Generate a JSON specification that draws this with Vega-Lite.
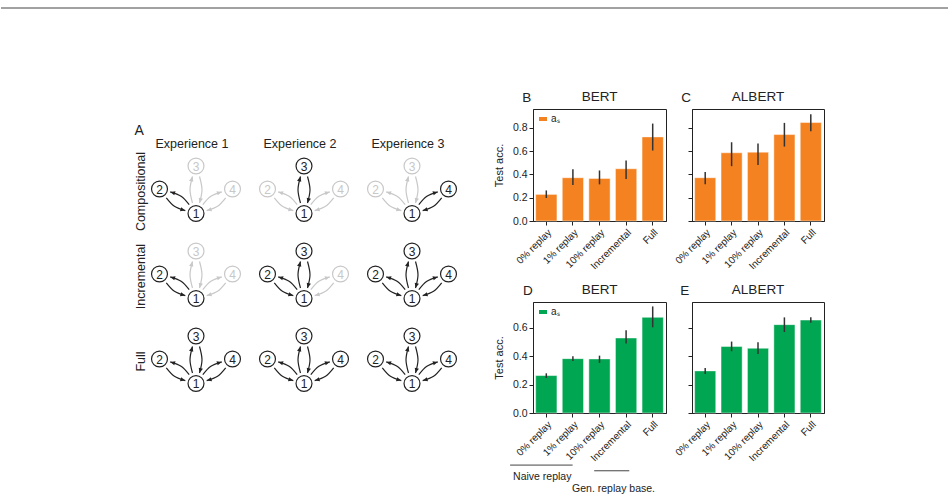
{
  "$schema": "https://vega.github.io/schema/vega-lite/v6.json",
  "padding": {"left": 0, "top": 7, "right": 0, "bottom": 0},
  "background": "white",
  "config": {
    "font": "Liberation Sans",
    "view": {"stroke": null},
    "axis": {"labelColor": "#222", "titleColor": "#222", "domainColor": "#222", "tickColor": "#222", "grid": false, "labelFontSize": 10.5, "titleFontSize": 11, "titleFontWeight": "normal", "tickSize": 4, "labelPadding": 2},
    "axisX": {"labelAngle": -45, "labelFontSize": 10},
    "title": {"fontSize": 13.5, "fontWeight": "normal", "color": "#222", "offset": 5},
    "header": {"labelFontSize": 12.5, "labelColor": "#222"},
    "legend": {"labelFontSize": 10, "labelColor": "#222"},
    "text": {"color": "#222"}
  },
  "datasets": {
    "adata": [
      {"r":"C","e":1,"g":"n","k":1,"x":0,"y":0,"on":1},
      {"r":"C","e":1,"g":"n","k":2,"x":-36.5,"y":24.5,"on":1},
      {"r":"C","e":1,"g":"n","k":3,"x":0,"y":47.5,"on":0},
      {"r":"C","e":1,"g":"n","k":4,"x":36.5,"y":24.5,"on":0},
      {"r":"C","e":1,"g":"a","k":2,"a":"o","o":0,"x":-6.8,"y":8.8,"on":1},
      {"r":"C","e":1,"g":"a","k":2,"a":"o","o":1,"x":-14.9,"y":17.2,"on":1},
      {"r":"C","e":1,"g":"a","k":2,"a":"o","o":2,"x":-25.8,"y":21.6,"on":1},
      {"r":"C","e":1,"g":"a","k":2,"a":"i","o":0,"x":-29.7,"y":15.7,"on":1},
      {"r":"C","e":1,"g":"a","k":2,"a":"i","o":1,"x":-21.6,"y":7.3,"on":1},
      {"r":"C","e":1,"g":"a","k":2,"a":"i","o":2,"x":-10.7,"y":2.9,"on":1},
      {"r":"C","e":1,"g":"a","k":3,"a":"o","o":0,"x":-3.5,"y":10.5,"on":0},
      {"r":"C","e":1,"g":"a","k":3,"a":"o","o":1,"x":-6,"y":23.8,"on":0},
      {"r":"C","e":1,"g":"a","k":3,"a":"o","o":2,"x":-3.5,"y":37,"on":0},
      {"r":"C","e":1,"g":"a","k":3,"a":"i","o":0,"x":3.5,"y":37,"on":0},
      {"r":"C","e":1,"g":"a","k":3,"a":"i","o":1,"x":6,"y":23.8,"on":0},
      {"r":"C","e":1,"g":"a","k":3,"a":"i","o":2,"x":3.5,"y":10.5,"on":0},
      {"r":"C","e":1,"g":"a","k":4,"a":"o","o":0,"x":6.8,"y":8.8,"on":0},
      {"r":"C","e":1,"g":"a","k":4,"a":"o","o":1,"x":14.9,"y":17.2,"on":0},
      {"r":"C","e":1,"g":"a","k":4,"a":"o","o":2,"x":25.8,"y":21.6,"on":0},
      {"r":"C","e":1,"g":"a","k":4,"a":"i","o":0,"x":29.7,"y":15.7,"on":0},
      {"r":"C","e":1,"g":"a","k":4,"a":"i","o":1,"x":21.6,"y":7.3,"on":0},
      {"r":"C","e":1,"g":"a","k":4,"a":"i","o":2,"x":10.7,"y":2.9,"on":0},
      {"r":"C","e":1,"g":"h","k":2,"x":-25.8,"y":21.6,"h":286,"on":1},
      {"r":"C","e":1,"g":"h","k":2,"x":-10.7,"y":2.9,"h":106,"on":1},
      {"r":"C","e":1,"g":"h","k":3,"x":-3.5,"y":37,"h":16,"on":0},
      {"r":"C","e":1,"g":"h","k":3,"x":3.5,"y":10.5,"h":196,"on":0},
      {"r":"C","e":1,"g":"h","k":4,"x":25.8,"y":21.6,"h":74,"on":0},
      {"r":"C","e":1,"g":"h","k":4,"x":10.7,"y":2.9,"h":254,"on":0},

      {"r":"C","e":2,"g":"n","k":1,"x":0,"y":0,"on":1},
      {"r":"C","e":2,"g":"n","k":2,"x":-36.5,"y":24.5,"on":0},
      {"r":"C","e":2,"g":"n","k":3,"x":0,"y":47.5,"on":1},
      {"r":"C","e":2,"g":"n","k":4,"x":36.5,"y":24.5,"on":0},
      {"r":"C","e":2,"g":"a","k":2,"a":"o","o":0,"x":-6.8,"y":8.8,"on":0},
      {"r":"C","e":2,"g":"a","k":2,"a":"o","o":1,"x":-14.9,"y":17.2,"on":0},
      {"r":"C","e":2,"g":"a","k":2,"a":"o","o":2,"x":-25.8,"y":21.6,"on":0},
      {"r":"C","e":2,"g":"a","k":2,"a":"i","o":0,"x":-29.7,"y":15.7,"on":0},
      {"r":"C","e":2,"g":"a","k":2,"a":"i","o":1,"x":-21.6,"y":7.3,"on":0},
      {"r":"C","e":2,"g":"a","k":2,"a":"i","o":2,"x":-10.7,"y":2.9,"on":0},
      {"r":"C","e":2,"g":"a","k":3,"a":"o","o":0,"x":-3.5,"y":10.5,"on":1},
      {"r":"C","e":2,"g":"a","k":3,"a":"o","o":1,"x":-6,"y":23.8,"on":1},
      {"r":"C","e":2,"g":"a","k":3,"a":"o","o":2,"x":-3.5,"y":37,"on":1},
      {"r":"C","e":2,"g":"a","k":3,"a":"i","o":0,"x":3.5,"y":37,"on":1},
      {"r":"C","e":2,"g":"a","k":3,"a":"i","o":1,"x":6,"y":23.8,"on":1},
      {"r":"C","e":2,"g":"a","k":3,"a":"i","o":2,"x":3.5,"y":10.5,"on":1},
      {"r":"C","e":2,"g":"a","k":4,"a":"o","o":0,"x":6.8,"y":8.8,"on":0},
      {"r":"C","e":2,"g":"a","k":4,"a":"o","o":1,"x":14.9,"y":17.2,"on":0},
      {"r":"C","e":2,"g":"a","k":4,"a":"o","o":2,"x":25.8,"y":21.6,"on":0},
      {"r":"C","e":2,"g":"a","k":4,"a":"i","o":0,"x":29.7,"y":15.7,"on":0},
      {"r":"C","e":2,"g":"a","k":4,"a":"i","o":1,"x":21.6,"y":7.3,"on":0},
      {"r":"C","e":2,"g":"a","k":4,"a":"i","o":2,"x":10.7,"y":2.9,"on":0},
      {"r":"C","e":2,"g":"h","k":2,"x":-25.8,"y":21.6,"h":286,"on":0},
      {"r":"C","e":2,"g":"h","k":2,"x":-10.7,"y":2.9,"h":106,"on":0},
      {"r":"C","e":2,"g":"h","k":3,"x":-3.5,"y":37,"h":16,"on":1},
      {"r":"C","e":2,"g":"h","k":3,"x":3.5,"y":10.5,"h":196,"on":1},
      {"r":"C","e":2,"g":"h","k":4,"x":25.8,"y":21.6,"h":74,"on":0},
      {"r":"C","e":2,"g":"h","k":4,"x":10.7,"y":2.9,"h":254,"on":0},

      {"r":"C","e":3,"g":"n","k":1,"x":0,"y":0,"on":1},
      {"r":"C","e":3,"g":"n","k":2,"x":-36.5,"y":24.5,"on":0},
      {"r":"C","e":3,"g":"n","k":3,"x":0,"y":47.5,"on":0},
      {"r":"C","e":3,"g":"n","k":4,"x":36.5,"y":24.5,"on":1},
      {"r":"C","e":3,"g":"a","k":2,"a":"o","o":0,"x":-6.8,"y":8.8,"on":0},
      {"r":"C","e":3,"g":"a","k":2,"a":"o","o":1,"x":-14.9,"y":17.2,"on":0},
      {"r":"C","e":3,"g":"a","k":2,"a":"o","o":2,"x":-25.8,"y":21.6,"on":0},
      {"r":"C","e":3,"g":"a","k":2,"a":"i","o":0,"x":-29.7,"y":15.7,"on":0},
      {"r":"C","e":3,"g":"a","k":2,"a":"i","o":1,"x":-21.6,"y":7.3,"on":0},
      {"r":"C","e":3,"g":"a","k":2,"a":"i","o":2,"x":-10.7,"y":2.9,"on":0},
      {"r":"C","e":3,"g":"a","k":3,"a":"o","o":0,"x":-3.5,"y":10.5,"on":0},
      {"r":"C","e":3,"g":"a","k":3,"a":"o","o":1,"x":-6,"y":23.8,"on":0},
      {"r":"C","e":3,"g":"a","k":3,"a":"o","o":2,"x":-3.5,"y":37,"on":0},
      {"r":"C","e":3,"g":"a","k":3,"a":"i","o":0,"x":3.5,"y":37,"on":0},
      {"r":"C","e":3,"g":"a","k":3,"a":"i","o":1,"x":6,"y":23.8,"on":0},
      {"r":"C","e":3,"g":"a","k":3,"a":"i","o":2,"x":3.5,"y":10.5,"on":0},
      {"r":"C","e":3,"g":"a","k":4,"a":"o","o":0,"x":6.8,"y":8.8,"on":1},
      {"r":"C","e":3,"g":"a","k":4,"a":"o","o":1,"x":14.9,"y":17.2,"on":1},
      {"r":"C","e":3,"g":"a","k":4,"a":"o","o":2,"x":25.8,"y":21.6,"on":1},
      {"r":"C","e":3,"g":"a","k":4,"a":"i","o":0,"x":29.7,"y":15.7,"on":1},
      {"r":"C","e":3,"g":"a","k":4,"a":"i","o":1,"x":21.6,"y":7.3,"on":1},
      {"r":"C","e":3,"g":"a","k":4,"a":"i","o":2,"x":10.7,"y":2.9,"on":1},
      {"r":"C","e":3,"g":"h","k":2,"x":-25.8,"y":21.6,"h":286,"on":0},
      {"r":"C","e":3,"g":"h","k":2,"x":-10.7,"y":2.9,"h":106,"on":0},
      {"r":"C","e":3,"g":"h","k":3,"x":-3.5,"y":37,"h":16,"on":0},
      {"r":"C","e":3,"g":"h","k":3,"x":3.5,"y":10.5,"h":196,"on":0},
      {"r":"C","e":3,"g":"h","k":4,"x":25.8,"y":21.6,"h":74,"on":1},
      {"r":"C","e":3,"g":"h","k":4,"x":10.7,"y":2.9,"h":254,"on":1},

      {"r":"I","e":1,"g":"n","k":1,"x":0,"y":0,"on":1},
      {"r":"I","e":1,"g":"n","k":2,"x":-36.5,"y":24.5,"on":1},
      {"r":"I","e":1,"g":"n","k":3,"x":0,"y":47.5,"on":0},
      {"r":"I","e":1,"g":"n","k":4,"x":36.5,"y":24.5,"on":0},
      {"r":"I","e":1,"g":"a","k":2,"a":"o","o":0,"x":-6.8,"y":8.8,"on":1},
      {"r":"I","e":1,"g":"a","k":2,"a":"o","o":1,"x":-14.9,"y":17.2,"on":1},
      {"r":"I","e":1,"g":"a","k":2,"a":"o","o":2,"x":-25.8,"y":21.6,"on":1},
      {"r":"I","e":1,"g":"a","k":2,"a":"i","o":0,"x":-29.7,"y":15.7,"on":1},
      {"r":"I","e":1,"g":"a","k":2,"a":"i","o":1,"x":-21.6,"y":7.3,"on":1},
      {"r":"I","e":1,"g":"a","k":2,"a":"i","o":2,"x":-10.7,"y":2.9,"on":1},
      {"r":"I","e":1,"g":"a","k":3,"a":"o","o":0,"x":-3.5,"y":10.5,"on":0},
      {"r":"I","e":1,"g":"a","k":3,"a":"o","o":1,"x":-6,"y":23.8,"on":0},
      {"r":"I","e":1,"g":"a","k":3,"a":"o","o":2,"x":-3.5,"y":37,"on":0},
      {"r":"I","e":1,"g":"a","k":3,"a":"i","o":0,"x":3.5,"y":37,"on":0},
      {"r":"I","e":1,"g":"a","k":3,"a":"i","o":1,"x":6,"y":23.8,"on":0},
      {"r":"I","e":1,"g":"a","k":3,"a":"i","o":2,"x":3.5,"y":10.5,"on":0},
      {"r":"I","e":1,"g":"a","k":4,"a":"o","o":0,"x":6.8,"y":8.8,"on":0},
      {"r":"I","e":1,"g":"a","k":4,"a":"o","o":1,"x":14.9,"y":17.2,"on":0},
      {"r":"I","e":1,"g":"a","k":4,"a":"o","o":2,"x":25.8,"y":21.6,"on":0},
      {"r":"I","e":1,"g":"a","k":4,"a":"i","o":0,"x":29.7,"y":15.7,"on":0},
      {"r":"I","e":1,"g":"a","k":4,"a":"i","o":1,"x":21.6,"y":7.3,"on":0},
      {"r":"I","e":1,"g":"a","k":4,"a":"i","o":2,"x":10.7,"y":2.9,"on":0},
      {"r":"I","e":1,"g":"h","k":2,"x":-25.8,"y":21.6,"h":286,"on":1},
      {"r":"I","e":1,"g":"h","k":2,"x":-10.7,"y":2.9,"h":106,"on":1},
      {"r":"I","e":1,"g":"h","k":3,"x":-3.5,"y":37,"h":16,"on":0},
      {"r":"I","e":1,"g":"h","k":3,"x":3.5,"y":10.5,"h":196,"on":0},
      {"r":"I","e":1,"g":"h","k":4,"x":25.8,"y":21.6,"h":74,"on":0},
      {"r":"I","e":1,"g":"h","k":4,"x":10.7,"y":2.9,"h":254,"on":0},

      {"r":"I","e":2,"g":"n","k":1,"x":0,"y":0,"on":1},
      {"r":"I","e":2,"g":"n","k":2,"x":-36.5,"y":24.5,"on":1},
      {"r":"I","e":2,"g":"n","k":3,"x":0,"y":47.5,"on":1},
      {"r":"I","e":2,"g":"n","k":4,"x":36.5,"y":24.5,"on":0},
      {"r":"I","e":2,"g":"a","k":2,"a":"o","o":0,"x":-6.8,"y":8.8,"on":1},
      {"r":"I","e":2,"g":"a","k":2,"a":"o","o":1,"x":-14.9,"y":17.2,"on":1},
      {"r":"I","e":2,"g":"a","k":2,"a":"o","o":2,"x":-25.8,"y":21.6,"on":1},
      {"r":"I","e":2,"g":"a","k":2,"a":"i","o":0,"x":-29.7,"y":15.7,"on":1},
      {"r":"I","e":2,"g":"a","k":2,"a":"i","o":1,"x":-21.6,"y":7.3,"on":1},
      {"r":"I","e":2,"g":"a","k":2,"a":"i","o":2,"x":-10.7,"y":2.9,"on":1},
      {"r":"I","e":2,"g":"a","k":3,"a":"o","o":0,"x":-3.5,"y":10.5,"on":1},
      {"r":"I","e":2,"g":"a","k":3,"a":"o","o":1,"x":-6,"y":23.8,"on":1},
      {"r":"I","e":2,"g":"a","k":3,"a":"o","o":2,"x":-3.5,"y":37,"on":1},
      {"r":"I","e":2,"g":"a","k":3,"a":"i","o":0,"x":3.5,"y":37,"on":1},
      {"r":"I","e":2,"g":"a","k":3,"a":"i","o":1,"x":6,"y":23.8,"on":1},
      {"r":"I","e":2,"g":"a","k":3,"a":"i","o":2,"x":3.5,"y":10.5,"on":1},
      {"r":"I","e":2,"g":"a","k":4,"a":"o","o":0,"x":6.8,"y":8.8,"on":0},
      {"r":"I","e":2,"g":"a","k":4,"a":"o","o":1,"x":14.9,"y":17.2,"on":0},
      {"r":"I","e":2,"g":"a","k":4,"a":"o","o":2,"x":25.8,"y":21.6,"on":0},
      {"r":"I","e":2,"g":"a","k":4,"a":"i","o":0,"x":29.7,"y":15.7,"on":0},
      {"r":"I","e":2,"g":"a","k":4,"a":"i","o":1,"x":21.6,"y":7.3,"on":0},
      {"r":"I","e":2,"g":"a","k":4,"a":"i","o":2,"x":10.7,"y":2.9,"on":0},
      {"r":"I","e":2,"g":"h","k":2,"x":-25.8,"y":21.6,"h":286,"on":1},
      {"r":"I","e":2,"g":"h","k":2,"x":-10.7,"y":2.9,"h":106,"on":1},
      {"r":"I","e":2,"g":"h","k":3,"x":-3.5,"y":37,"h":16,"on":1},
      {"r":"I","e":2,"g":"h","k":3,"x":3.5,"y":10.5,"h":196,"on":1},
      {"r":"I","e":2,"g":"h","k":4,"x":25.8,"y":21.6,"h":74,"on":0},
      {"r":"I","e":2,"g":"h","k":4,"x":10.7,"y":2.9,"h":254,"on":0},

      {"r":"I","e":3,"g":"n","k":1,"x":0,"y":0,"on":1},
      {"r":"I","e":3,"g":"n","k":2,"x":-36.5,"y":24.5,"on":1},
      {"r":"I","e":3,"g":"n","k":3,"x":0,"y":47.5,"on":1},
      {"r":"I","e":3,"g":"n","k":4,"x":36.5,"y":24.5,"on":1},
      {"r":"I","e":3,"g":"a","k":2,"a":"o","o":0,"x":-6.8,"y":8.8,"on":1},
      {"r":"I","e":3,"g":"a","k":2,"a":"o","o":1,"x":-14.9,"y":17.2,"on":1},
      {"r":"I","e":3,"g":"a","k":2,"a":"o","o":2,"x":-25.8,"y":21.6,"on":1},
      {"r":"I","e":3,"g":"a","k":2,"a":"i","o":0,"x":-29.7,"y":15.7,"on":1},
      {"r":"I","e":3,"g":"a","k":2,"a":"i","o":1,"x":-21.6,"y":7.3,"on":1},
      {"r":"I","e":3,"g":"a","k":2,"a":"i","o":2,"x":-10.7,"y":2.9,"on":1},
      {"r":"I","e":3,"g":"a","k":3,"a":"o","o":0,"x":-3.5,"y":10.5,"on":1},
      {"r":"I","e":3,"g":"a","k":3,"a":"o","o":1,"x":-6,"y":23.8,"on":1},
      {"r":"I","e":3,"g":"a","k":3,"a":"o","o":2,"x":-3.5,"y":37,"on":1},
      {"r":"I","e":3,"g":"a","k":3,"a":"i","o":0,"x":3.5,"y":37,"on":1},
      {"r":"I","e":3,"g":"a","k":3,"a":"i","o":1,"x":6,"y":23.8,"on":1},
      {"r":"I","e":3,"g":"a","k":3,"a":"i","o":2,"x":3.5,"y":10.5,"on":1},
      {"r":"I","e":3,"g":"a","k":4,"a":"o","o":0,"x":6.8,"y":8.8,"on":1},
      {"r":"I","e":3,"g":"a","k":4,"a":"o","o":1,"x":14.9,"y":17.2,"on":1},
      {"r":"I","e":3,"g":"a","k":4,"a":"o","o":2,"x":25.8,"y":21.6,"on":1},
      {"r":"I","e":3,"g":"a","k":4,"a":"i","o":0,"x":29.7,"y":15.7,"on":1},
      {"r":"I","e":3,"g":"a","k":4,"a":"i","o":1,"x":21.6,"y":7.3,"on":1},
      {"r":"I","e":3,"g":"a","k":4,"a":"i","o":2,"x":10.7,"y":2.9,"on":1},
      {"r":"I","e":3,"g":"h","k":2,"x":-25.8,"y":21.6,"h":286,"on":1},
      {"r":"I","e":3,"g":"h","k":2,"x":-10.7,"y":2.9,"h":106,"on":1},
      {"r":"I","e":3,"g":"h","k":3,"x":-3.5,"y":37,"h":16,"on":1},
      {"r":"I","e":3,"g":"h","k":3,"x":3.5,"y":10.5,"h":196,"on":1},
      {"r":"I","e":3,"g":"h","k":4,"x":25.8,"y":21.6,"h":74,"on":1},
      {"r":"I","e":3,"g":"h","k":4,"x":10.7,"y":2.9,"h":254,"on":1},

      {"r":"F","e":1,"g":"n","k":1,"x":0,"y":0,"on":1},
      {"r":"F","e":1,"g":"n","k":2,"x":-36.5,"y":24.5,"on":1},
      {"r":"F","e":1,"g":"n","k":3,"x":0,"y":47.5,"on":1},
      {"r":"F","e":1,"g":"n","k":4,"x":36.5,"y":24.5,"on":1},
      {"r":"F","e":1,"g":"a","k":2,"a":"o","o":0,"x":-6.8,"y":8.8,"on":1},
      {"r":"F","e":1,"g":"a","k":2,"a":"o","o":1,"x":-14.9,"y":17.2,"on":1},
      {"r":"F","e":1,"g":"a","k":2,"a":"o","o":2,"x":-25.8,"y":21.6,"on":1},
      {"r":"F","e":1,"g":"a","k":2,"a":"i","o":0,"x":-29.7,"y":15.7,"on":1},
      {"r":"F","e":1,"g":"a","k":2,"a":"i","o":1,"x":-21.6,"y":7.3,"on":1},
      {"r":"F","e":1,"g":"a","k":2,"a":"i","o":2,"x":-10.7,"y":2.9,"on":1},
      {"r":"F","e":1,"g":"a","k":3,"a":"o","o":0,"x":-3.5,"y":10.5,"on":1},
      {"r":"F","e":1,"g":"a","k":3,"a":"o","o":1,"x":-6,"y":23.8,"on":1},
      {"r":"F","e":1,"g":"a","k":3,"a":"o","o":2,"x":-3.5,"y":37,"on":1},
      {"r":"F","e":1,"g":"a","k":3,"a":"i","o":0,"x":3.5,"y":37,"on":1},
      {"r":"F","e":1,"g":"a","k":3,"a":"i","o":1,"x":6,"y":23.8,"on":1},
      {"r":"F","e":1,"g":"a","k":3,"a":"i","o":2,"x":3.5,"y":10.5,"on":1},
      {"r":"F","e":1,"g":"a","k":4,"a":"o","o":0,"x":6.8,"y":8.8,"on":1},
      {"r":"F","e":1,"g":"a","k":4,"a":"o","o":1,"x":14.9,"y":17.2,"on":1},
      {"r":"F","e":1,"g":"a","k":4,"a":"o","o":2,"x":25.8,"y":21.6,"on":1},
      {"r":"F","e":1,"g":"a","k":4,"a":"i","o":0,"x":29.7,"y":15.7,"on":1},
      {"r":"F","e":1,"g":"a","k":4,"a":"i","o":1,"x":21.6,"y":7.3,"on":1},
      {"r":"F","e":1,"g":"a","k":4,"a":"i","o":2,"x":10.7,"y":2.9,"on":1},
      {"r":"F","e":1,"g":"h","k":2,"x":-25.8,"y":21.6,"h":286,"on":1},
      {"r":"F","e":1,"g":"h","k":2,"x":-10.7,"y":2.9,"h":106,"on":1},
      {"r":"F","e":1,"g":"h","k":3,"x":-3.5,"y":37,"h":16,"on":1},
      {"r":"F","e":1,"g":"h","k":3,"x":3.5,"y":10.5,"h":196,"on":1},
      {"r":"F","e":1,"g":"h","k":4,"x":25.8,"y":21.6,"h":74,"on":1},
      {"r":"F","e":1,"g":"h","k":4,"x":10.7,"y":2.9,"h":254,"on":1},

      {"r":"F","e":2,"g":"n","k":1,"x":0,"y":0,"on":1},
      {"r":"F","e":2,"g":"n","k":2,"x":-36.5,"y":24.5,"on":1},
      {"r":"F","e":2,"g":"n","k":3,"x":0,"y":47.5,"on":1},
      {"r":"F","e":2,"g":"n","k":4,"x":36.5,"y":24.5,"on":1},
      {"r":"F","e":2,"g":"a","k":2,"a":"o","o":0,"x":-6.8,"y":8.8,"on":1},
      {"r":"F","e":2,"g":"a","k":2,"a":"o","o":1,"x":-14.9,"y":17.2,"on":1},
      {"r":"F","e":2,"g":"a","k":2,"a":"o","o":2,"x":-25.8,"y":21.6,"on":1},
      {"r":"F","e":2,"g":"a","k":2,"a":"i","o":0,"x":-29.7,"y":15.7,"on":1},
      {"r":"F","e":2,"g":"a","k":2,"a":"i","o":1,"x":-21.6,"y":7.3,"on":1},
      {"r":"F","e":2,"g":"a","k":2,"a":"i","o":2,"x":-10.7,"y":2.9,"on":1},
      {"r":"F","e":2,"g":"a","k":3,"a":"o","o":0,"x":-3.5,"y":10.5,"on":1},
      {"r":"F","e":2,"g":"a","k":3,"a":"o","o":1,"x":-6,"y":23.8,"on":1},
      {"r":"F","e":2,"g":"a","k":3,"a":"o","o":2,"x":-3.5,"y":37,"on":1},
      {"r":"F","e":2,"g":"a","k":3,"a":"i","o":0,"x":3.5,"y":37,"on":1},
      {"r":"F","e":2,"g":"a","k":3,"a":"i","o":1,"x":6,"y":23.8,"on":1},
      {"r":"F","e":2,"g":"a","k":3,"a":"i","o":2,"x":3.5,"y":10.5,"on":1},
      {"r":"F","e":2,"g":"a","k":4,"a":"o","o":0,"x":6.8,"y":8.8,"on":1},
      {"r":"F","e":2,"g":"a","k":4,"a":"o","o":1,"x":14.9,"y":17.2,"on":1},
      {"r":"F","e":2,"g":"a","k":4,"a":"o","o":2,"x":25.8,"y":21.6,"on":1},
      {"r":"F","e":2,"g":"a","k":4,"a":"i","o":0,"x":29.7,"y":15.7,"on":1},
      {"r":"F","e":2,"g":"a","k":4,"a":"i","o":1,"x":21.6,"y":7.3,"on":1},
      {"r":"F","e":2,"g":"a","k":4,"a":"i","o":2,"x":10.7,"y":2.9,"on":1},
      {"r":"F","e":2,"g":"h","k":2,"x":-25.8,"y":21.6,"h":286,"on":1},
      {"r":"F","e":2,"g":"h","k":2,"x":-10.7,"y":2.9,"h":106,"on":1},
      {"r":"F","e":2,"g":"h","k":3,"x":-3.5,"y":37,"h":16,"on":1},
      {"r":"F","e":2,"g":"h","k":3,"x":3.5,"y":10.5,"h":196,"on":1},
      {"r":"F","e":2,"g":"h","k":4,"x":25.8,"y":21.6,"h":74,"on":1},
      {"r":"F","e":2,"g":"h","k":4,"x":10.7,"y":2.9,"h":254,"on":1},

      {"r":"F","e":3,"g":"n","k":1,"x":0,"y":0,"on":1},
      {"r":"F","e":3,"g":"n","k":2,"x":-36.5,"y":24.5,"on":1},
      {"r":"F","e":3,"g":"n","k":3,"x":0,"y":47.5,"on":1},
      {"r":"F","e":3,"g":"n","k":4,"x":36.5,"y":24.5,"on":1},
      {"r":"F","e":3,"g":"a","k":2,"a":"o","o":0,"x":-6.8,"y":8.8,"on":1},
      {"r":"F","e":3,"g":"a","k":2,"a":"o","o":1,"x":-14.9,"y":17.2,"on":1},
      {"r":"F","e":3,"g":"a","k":2,"a":"o","o":2,"x":-25.8,"y":21.6,"on":1},
      {"r":"F","e":3,"g":"a","k":2,"a":"i","o":0,"x":-29.7,"y":15.7,"on":1},
      {"r":"F","e":3,"g":"a","k":2,"a":"i","o":1,"x":-21.6,"y":7.3,"on":1},
      {"r":"F","e":3,"g":"a","k":2,"a":"i","o":2,"x":-10.7,"y":2.9,"on":1},
      {"r":"F","e":3,"g":"a","k":3,"a":"o","o":0,"x":-3.5,"y":10.5,"on":1},
      {"r":"F","e":3,"g":"a","k":3,"a":"o","o":1,"x":-6,"y":23.8,"on":1},
      {"r":"F","e":3,"g":"a","k":3,"a":"o","o":2,"x":-3.5,"y":37,"on":1},
      {"r":"F","e":3,"g":"a","k":3,"a":"i","o":0,"x":3.5,"y":37,"on":1},
      {"r":"F","e":3,"g":"a","k":3,"a":"i","o":1,"x":6,"y":23.8,"on":1},
      {"r":"F","e":3,"g":"a","k":3,"a":"i","o":2,"x":3.5,"y":10.5,"on":1},
      {"r":"F","e":3,"g":"a","k":4,"a":"o","o":0,"x":6.8,"y":8.8,"on":1},
      {"r":"F","e":3,"g":"a","k":4,"a":"o","o":1,"x":14.9,"y":17.2,"on":1},
      {"r":"F","e":3,"g":"a","k":4,"a":"o","o":2,"x":25.8,"y":21.6,"on":1},
      {"r":"F","e":3,"g":"a","k":4,"a":"i","o":0,"x":29.7,"y":15.7,"on":1},
      {"r":"F","e":3,"g":"a","k":4,"a":"i","o":1,"x":21.6,"y":7.3,"on":1},
      {"r":"F","e":3,"g":"a","k":4,"a":"i","o":2,"x":10.7,"y":2.9,"on":1},
      {"r":"F","e":3,"g":"h","k":2,"x":-25.8,"y":21.6,"h":286,"on":1},
      {"r":"F","e":3,"g":"h","k":2,"x":-10.7,"y":2.9,"h":106,"on":1},
      {"r":"F","e":3,"g":"h","k":3,"x":-3.5,"y":37,"h":16,"on":1},
      {"r":"F","e":3,"g":"h","k":3,"x":3.5,"y":10.5,"h":196,"on":1},
      {"r":"F","e":3,"g":"h","k":4,"x":25.8,"y":21.6,"h":74,"on":1},
      {"r":"F","e":3,"g":"h","k":4,"x":10.7,"y":2.9,"h":254,"on":1}
    ],
    "bars": [
      {"p": "B", "cat": "0% replay", "v": 0.228, "lo": 0.197, "hi": 0.262, "m": "aₛ"},
      {"p": "B", "cat": "1% replay", "v": 0.371, "lo": 0.308, "hi": 0.444, "m": "aₛ"},
      {"p": "B", "cat": "10% replay", "v": 0.365, "lo": 0.314, "hi": 0.433, "m": "aₛ"},
      {"p": "B", "cat": "Incremental", "v": 0.448, "lo": 0.359, "hi": 0.519, "m": "aₛ"},
      {"p": "B", "cat": "Full", "v": 0.721, "lo": 0.604, "hi": 0.835, "m": "aₛ"},
      {"p": "C", "cat": "0% replay", "v": 0.371, "lo": 0.314, "hi": 0.419, "m": "aₛ"},
      {"p": "C", "cat": "1% replay", "v": 0.585, "lo": 0.47, "hi": 0.675, "m": "aₛ"},
      {"p": "C", "cat": "10% replay", "v": 0.59, "lo": 0.479, "hi": 0.664, "m": "aₛ"},
      {"p": "C", "cat": "Incremental", "v": 0.741, "lo": 0.638, "hi": 0.841, "m": "aₛ"},
      {"p": "C", "cat": "Full", "v": 0.844, "lo": 0.769, "hi": 0.915, "m": "aₛ"},
      {"p": "D", "cat": "0% replay", "v": 0.263, "lo": 0.246, "hi": 0.279, "m": "aₛ"},
      {"p": "D", "cat": "1% replay", "v": 0.382, "lo": 0.366, "hi": 0.399, "m": "aₛ"},
      {"p": "D", "cat": "10% replay", "v": 0.38, "lo": 0.352, "hi": 0.403, "m": "aₛ"},
      {"p": "D", "cat": "Incremental", "v": 0.527, "lo": 0.488, "hi": 0.581, "m": "aₛ"},
      {"p": "D", "cat": "Full", "v": 0.672, "lo": 0.602, "hi": 0.749, "m": "aₛ"},
      {"p": "E", "cat": "0% replay", "v": 0.296, "lo": 0.274, "hi": 0.316, "m": "aₛ"},
      {"p": "E", "cat": "1% replay", "v": 0.467, "lo": 0.434, "hi": 0.502, "m": "aₛ"},
      {"p": "E", "cat": "10% replay", "v": 0.455, "lo": 0.415, "hi": 0.497, "m": "aₛ"},
      {"p": "E", "cat": "Incremental", "v": 0.621, "lo": 0.569, "hi": 0.672, "m": "aₛ"},
      {"p": "E", "cat": "Full", "v": 0.653, "lo": 0.635, "hi": 0.672, "m": "aₛ"}
    ]
  },
  "resolve": {"scale": {"color": "independent"}, "legend": {"color": "independent"}},
  "spacing": 80,
  "vconcat": [
    {
      "width": 948, "height": 1,
      "data": {"values": [{"a": 0, "b": 1}]},
      "mark": {"type": "rule", "color": "#444", "strokeWidth": 1},
      "encoding": {
        "x": {"field": "a", "type": "quantitative", "scale": {"domain": [0, 1]}, "axis": null},
        "x2": {"field": "b"},
        "y": {"datum": 0, "type": "quantitative", "scale": {"domain": [0, 1]}, "axis": null}
      }
    },
    {
      "spacing": 33,
      "resolve": {"scale": {"color": "independent"}, "legend": {"color": "independent"}},
      "hconcat": [
        {"width": 100, "height": 10, "data": {"values": [{"s": 0}]}, "mark": {"type": "point", "opacity": 0}},
        {
          "spacing": 0,
          "vconcat": [
            {"width": 10, "height": 14, "data": {"values": [{"s": 0}]}, "mark": {"type": "point", "opacity": 0}},
            {
              "data": {"name": "adata"},
              "title": {"text": "A", "anchor": "start", "frame": "bounds", "fontSize": 14, "offset": 0},
              "facet": {
                "row": {"field": "r", "type": "nominal", "sort": ["C", "I", "F"], "header": {"title": null, "labelAngle": -90, "labelOrient": "left", "labelPadding": -6, "labelExpr": "datum.value == 'C' ? 'Compositional' : datum.value == 'I' ? 'Incremental' : 'Full'"}},
                "column": {"field": "e", "type": "ordinal", "header": {"title": null, "labelPadding": 4, "labelExpr": "'Experience ' + datum.value"}}
              },
              "spacing": {"row": 10, "column": 12},
              "spec": {
                "width": 90, "height": 75,
                "layer": [
                  {
                    "transform": [{"filter": "datum.g == 'a'"}],
                    "mark": {"type": "line", "interpolate": "natural", "strokeWidth": 1.2},
                    "encoding": {
                      "x": {"field": "x", "type": "quantitative", "scale": {"domain": [-49, 41], "nice": false, "zero": false}, "axis": null},
                      "y": {"field": "y", "type": "quantitative", "scale": {"domain": [-15.5, 59.5], "nice": false, "zero": false}, "axis": null},
                      "detail": [{"field": "k", "type": "nominal"}, {"field": "a", "type": "nominal"}],
                      "order": {"field": "o", "type": "quantitative"},
                      "stroke": {"condition": {"test": "datum.on == 1", "value": "#222"}, "value": "#c8c8c8"}
                    }
                  },
                  {
                    "transform": [{"filter": "datum.g == 'h'"}],
                    "mark": {"type": "point", "shape": "M0,0L0.8,1.8L-0.8,1.8Z", "size": 30, "filled": true, "opacity": 1, "strokeWidth": 0},
                    "encoding": {
                      "x": {"field": "x", "type": "quantitative", "scale": {"domain": [-49, 41], "nice": false, "zero": false}, "axis": null},
                      "y": {"field": "y", "type": "quantitative", "scale": {"domain": [-15.5, 59.5], "nice": false, "zero": false}, "axis": null},
                      "angle": {"field": "h", "type": "quantitative", "scale": null},
                      "fill": {"condition": {"test": "datum.on == 1", "value": "#222"}, "value": "#c8c8c8"}
                    }
                  },
                  {
                    "transform": [{"filter": "datum.g == 'n'"}],
                    "mark": {"type": "point", "shape": "circle", "size": 254, "filled": true, "fill": "white", "opacity": 1, "strokeWidth": 1.2},
                    "encoding": {
                      "x": {"field": "x", "type": "quantitative", "scale": {"domain": [-49, 41], "nice": false, "zero": false}, "axis": null},
                      "y": {"field": "y", "type": "quantitative", "scale": {"domain": [-15.5, 59.5], "nice": false, "zero": false}, "axis": null},
                      "stroke": {"condition": {"test": "datum.on == 1", "value": "#222"}, "value": "#c8c8c8"}
                    }
                  },
                  {
                    "transform": [{"filter": "datum.g == 'n'"}],
                    "mark": {"type": "text", "fontSize": 12, "align": "center", "baseline": "middle", "dy": 0.5},
                    "encoding": {
                      "x": {"field": "x", "type": "quantitative", "scale": {"domain": [-49, 41], "nice": false, "zero": false}, "axis": null},
                      "y": {"field": "y", "type": "quantitative", "scale": {"domain": [-15.5, 59.5], "nice": false, "zero": false}, "axis": null},
                      "text": {"field": "k", "type": "nominal"},
                      "fill": {"condition": {"test": "datum.on == 1", "value": "#222"}, "value": "#c8c8c8"}
                    }
                  }
                ]
              }
            }
          ]
        },
        {
          "spacing": 10,
          "resolve": {"scale": {"color": "independent"}, "legend": {"color": "independent"}},
          "vconcat": [
            {
              "spacing": 5,
              "resolve": {"scale": {"color": "independent"}, "legend": {"color": "independent"}},
              "hconcat": [
                {
                  "width": 133, "height": 112,
                  "view": {"stroke": "#222", "strokeWidth": 1},
                  "layer": [
                    {
                      "data": {"name": "bars"},
                      "transform": [{"filter": "datum.p == 'B'"}],
                      "mark": {"type": "bar", "stroke": "white", "strokeOpacity": 0.45, "strokeWidth": 1},
                      "encoding": {
                        "x": {"field": "cat", "type": "nominal", "title": null, "scale": {"domain": ["0% replay", "1% replay", "10% replay", "Incremental", "Full"], "paddingInner": 0.2, "paddingOuter": 0.1}},
                        "y": {"field": "v", "type": "quantitative", "title": "Test acc.", "scale": {"domain": [0, 0.96], "nice": false}, "axis": {"values": [0, 0.2, 0.4, 0.6, 0.8], "format": ".1f", "titlePadding": 8}},
                        "color": {"field": "m", "type": "nominal", "scale": {"range": ["#F58220"]}, "legend": {"orient": "top-left", "title": null, "offset": 5, "padding": 0, "symbolType": "M-1,-0.5L1,-0.5L1,0.5L-1,0.5Z", "symbolSize": 64, "symbolStrokeWidth": 0, "labelFontSize": 10, "labelOffset": 3}}
                      }
                    },
                    {
                      "data": {"name": "bars"},
                      "transform": [{"filter": "datum.p == 'B'"}],
                      "mark": {"type": "rule", "color": "#333", "strokeWidth": 1.5},
                      "encoding": {
                        "x": {"field": "cat", "type": "nominal", "title": null, "scale": {"domain": ["0% replay", "1% replay", "10% replay", "Incremental", "Full"]}},
                        "y": {"field": "lo", "type": "quantitative", "title": "Test acc.", "scale": {"domain": [0, 0.96], "nice": false}, "axis": {"values": [0, 0.2, 0.4, 0.6, 0.8], "format": ".1f", "titlePadding": 8}},
                        "y2": {"field": "hi"}
                      }
                    },
                    {
                      "data": {"values": [{"cat": "0% replay", "yv": 0.96, "t": "B"}]},
                      "mark": {"type": "text", "dx": -19.5, "dy": -11, "fontSize": 13.5, "align": "center", "baseline": "middle"},
                      "encoding": {
                        "x": {"field": "cat", "type": "nominal", "title": null, "scale": {"domain": ["0% replay", "1% replay", "10% replay", "Incremental", "Full"]}},
                        "y": {"field": "yv", "type": "quantitative", "title": "Test acc.", "scale": {"domain": [0, 0.96], "nice": false}, "axis": {"values": [0, 0.2, 0.4, 0.6, 0.8], "format": ".1f", "titlePadding": 8}},
                        "text": {"field": "t"}
                      }
                    },
                    {
                      "data": {"values": [{"cat": "10% replay", "yv": 0.96, "t": "BERT"}]},
                      "mark": {"type": "text", "dy": -12, "fontSize": 13.5, "align": "center", "baseline": "middle"},
                      "encoding": {
                        "x": {"field": "cat", "type": "nominal", "title": null, "scale": {"domain": ["0% replay", "1% replay", "10% replay", "Incremental", "Full"]}},
                        "y": {"field": "yv", "type": "quantitative", "title": "Test acc.", "scale": {"domain": [0, 0.96], "nice": false}, "axis": {"values": [0, 0.2, 0.4, 0.6, 0.8], "format": ".1f", "titlePadding": 8}},
                        "text": {"field": "t"}
                      }
                    }
                  ]
                },
                {
                  "width": 132, "height": 112,
                  "view": {"stroke": "#222", "strokeWidth": 1},
                  "layer": [
                    {
                      "data": {"name": "bars"},
                      "transform": [{"filter": "datum.p == 'C'"}],
                      "mark": {"type": "bar", "stroke": "white", "strokeOpacity": 0.45, "strokeWidth": 1},
                      "encoding": {
                        "x": {"field": "cat", "type": "nominal", "title": null, "scale": {"domain": ["0% replay", "1% replay", "10% replay", "Incremental", "Full"], "paddingInner": 0.2, "paddingOuter": 0.1}},
                        "y": {"field": "v", "type": "quantitative", "title": null, "scale": {"domain": [0, 0.96], "nice": false}, "axis": {"values": [0, 0.2, 0.4, 0.6, 0.8], "labels": false}},
                        "color": {"field": "m", "type": "nominal", "scale": {"range": ["#F58220"]}, "legend": null}
                      }
                    },
                    {
                      "data": {"name": "bars"},
                      "transform": [{"filter": "datum.p == 'C'"}],
                      "mark": {"type": "rule", "color": "#333", "strokeWidth": 1.5},
                      "encoding": {
                        "x": {"field": "cat", "type": "nominal", "title": null, "scale": {"domain": ["0% replay", "1% replay", "10% replay", "Incremental", "Full"]}},
                        "y": {"field": "lo", "type": "quantitative", "title": null, "scale": {"domain": [0, 0.96], "nice": false}, "axis": {"values": [0, 0.2, 0.4, 0.6, 0.8], "labels": false}},
                        "y2": {"field": "hi"}
                      }
                    },
                    {
                      "data": {"values": [{"cat": "0% replay", "yv": 0.96, "t": "C"}]},
                      "mark": {"type": "text", "dx": -19, "dy": -11, "fontSize": 13.5, "align": "center", "baseline": "middle"},
                      "encoding": {
                        "x": {"field": "cat", "type": "nominal", "title": null, "scale": {"domain": ["0% replay", "1% replay", "10% replay", "Incremental", "Full"]}},
                        "y": {"field": "yv", "type": "quantitative", "title": null, "scale": {"domain": [0, 0.96], "nice": false}, "axis": {"values": [0, 0.2, 0.4, 0.6, 0.8], "labels": false}},
                        "text": {"field": "t"}
                      }
                    },
                    {
                      "data": {"values": [{"cat": "10% replay", "yv": 0.96, "t": "ALBERT"}]},
                      "mark": {"type": "text", "dy": -12, "fontSize": 13.5, "align": "center", "baseline": "middle"},
                      "encoding": {
                        "x": {"field": "cat", "type": "nominal", "title": null, "scale": {"domain": ["0% replay", "1% replay", "10% replay", "Incremental", "Full"]}},
                        "y": {"field": "yv", "type": "quantitative", "title": null, "scale": {"domain": [0, 0.96], "nice": false}, "axis": {"values": [0, 0.2, 0.4, 0.6, 0.8], "labels": false}},
                        "text": {"field": "t"}
                      }
                    }
                  ]
                }
              ]
            },
            {
              "spacing": 5,
              "resolve": {"scale": {"color": "independent"}, "legend": {"color": "independent"}},
              "hconcat": [
                {
                  "width": 133, "height": 111,
                  "view": {"stroke": "#222", "strokeWidth": 1},
                  "resolve": {"scale": {"x": "independent"}, "axis": {"x": "independent"}},
                  "layer": [
                    {
                      "layer": [
                        {
                          "data": {"name": "bars"},
                          "transform": [{"filter": "datum.p == 'D'"}],
                          "mark": {"type": "bar", "stroke": "white", "strokeOpacity": 0.45, "strokeWidth": 1},
                          "encoding": {
                            "x": {"field": "cat", "type": "nominal", "title": null, "scale": {"domain": ["0% replay", "1% replay", "10% replay", "Incremental", "Full"], "paddingInner": 0.2, "paddingOuter": 0.1}},
                            "y": {"field": "v", "type": "quantitative", "title": "Test acc.", "scale": {"domain": [0, 0.78], "nice": false}, "axis": {"values": [0, 0.2, 0.4, 0.6], "format": ".1f", "titlePadding": 8}},
                            "color": {"field": "m", "type": "nominal", "scale": {"range": ["#00A651"]}, "legend": {"orient": "top-left", "title": null, "offset": 5, "padding": 0, "symbolType": "M-1,-0.5L1,-0.5L1,0.5L-1,0.5Z", "symbolSize": 64, "symbolStrokeWidth": 0, "labelFontSize": 10, "labelOffset": 3}}
                          }
                        },
                        {
                          "data": {"name": "bars"},
                          "transform": [{"filter": "datum.p == 'D'"}],
                          "mark": {"type": "rule", "color": "#333", "strokeWidth": 1.5},
                          "encoding": {
                            "x": {"field": "cat", "type": "nominal", "title": null, "scale": {"domain": ["0% replay", "1% replay", "10% replay", "Incremental", "Full"]}},
                            "y": {"field": "lo", "type": "quantitative", "title": "Test acc.", "scale": {"domain": [0, 0.78], "nice": false}, "axis": {"values": [0, 0.2, 0.4, 0.6], "format": ".1f", "titlePadding": 8}},
                            "y2": {"field": "hi"}
                          }
                        },
                        {
                          "data": {"values": [{"cat": "0% replay", "yv": 0.78, "t": "D"}]},
                          "mark": {"type": "text", "dx": -18.5, "dy": -11, "fontSize": 13.5, "align": "center", "baseline": "middle"},
                          "encoding": {
                            "x": {"field": "cat", "type": "nominal", "title": null, "scale": {"domain": ["0% replay", "1% replay", "10% replay", "Incremental", "Full"]}},
                            "y": {"field": "yv", "type": "quantitative", "title": "Test acc.", "scale": {"domain": [0, 0.78], "nice": false}, "axis": {"values": [0, 0.2, 0.4, 0.6], "format": ".1f", "titlePadding": 8}},
                            "text": {"field": "t"}
                          }
                        },
                        {
                          "data": {"values": [{"cat": "10% replay", "yv": 0.78, "t": "BERT"}]},
                          "mark": {"type": "text", "dy": -12, "fontSize": 13.5, "align": "center", "baseline": "middle"},
                          "encoding": {
                            "x": {"field": "cat", "type": "nominal", "title": null, "scale": {"domain": ["0% replay", "1% replay", "10% replay", "Incremental", "Full"]}},
                            "y": {"field": "yv", "type": "quantitative", "title": "Test acc.", "scale": {"domain": [0, 0.78], "nice": false}, "axis": {"values": [0, 0.2, 0.4, 0.6], "format": ".1f", "titlePadding": 8}},
                            "text": {"field": "t"}
                          }
                        }
                      ]
                    },
                    {
                      "layer": [
                        {
                          "data": {"values": [{"x0": -0.86, "x1": 1.49, "yy": -0.366}, {"x0": 2.3, "x1": 3.62, "yy": -0.406}]},
                          "mark": {"type": "rule", "color": "#444", "strokeWidth": 1},
                          "encoding": {
                            "x": {"field": "x0", "type": "quantitative", "scale": {"domain": [0, 5], "nice": false, "zero": false}, "axis": null},
                            "x2": {"field": "x1"},
                            "y": {"field": "yy", "type": "quantitative", "title": "Test acc.", "scale": {"domain": [0, 0.78], "nice": false}, "axis": {"values": [0, 0.2, 0.4, 0.6], "format": ".1f", "titlePadding": 8}}
                          }
                        },
                        {
                          "data": {"values": [{"x0": -0.75, "yy": -0.45, "t": "Naive replay"}, {"x0": 1.47, "yy": -0.535, "t": "Gen. replay base."}]},
                          "mark": {"type": "text", "fontSize": 10.5, "align": "left", "baseline": "middle"},
                          "encoding": {
                            "x": {"field": "x0", "type": "quantitative", "scale": {"domain": [0, 5], "nice": false, "zero": false}, "axis": null},
                            "y": {"field": "yy", "type": "quantitative", "title": "Test acc.", "scale": {"domain": [0, 0.78], "nice": false}, "axis": {"values": [0, 0.2, 0.4, 0.6], "format": ".1f", "titlePadding": 8}},
                            "text": {"field": "t"}
                          }
                        }
                      ]
                    }
                  ]
                },
                {
                  "width": 132, "height": 111,
                  "view": {"stroke": "#222", "strokeWidth": 1},
                  "layer": [
                    {
                      "data": {"name": "bars"},
                      "transform": [{"filter": "datum.p == 'E'"}],
                      "mark": {"type": "bar", "stroke": "white", "strokeOpacity": 0.45, "strokeWidth": 1},
                      "encoding": {
                        "x": {"field": "cat", "type": "nominal", "title": null, "scale": {"domain": ["0% replay", "1% replay", "10% replay", "Incremental", "Full"], "paddingInner": 0.2, "paddingOuter": 0.1}},
                        "y": {"field": "v", "type": "quantitative", "title": null, "scale": {"domain": [0, 0.78], "nice": false}, "axis": {"values": [0, 0.2, 0.4, 0.6], "labels": false}},
                        "color": {"field": "m", "type": "nominal", "scale": {"range": ["#00A651"]}, "legend": null}
                      }
                    },
                    {
                      "data": {"name": "bars"},
                      "transform": [{"filter": "datum.p == 'E'"}],
                      "mark": {"type": "rule", "color": "#333", "strokeWidth": 1.5},
                      "encoding": {
                        "x": {"field": "cat", "type": "nominal", "title": null, "scale": {"domain": ["0% replay", "1% replay", "10% replay", "Incremental", "Full"]}},
                        "y": {"field": "lo", "type": "quantitative", "title": null, "scale": {"domain": [0, 0.78], "nice": false}, "axis": {"values": [0, 0.2, 0.4, 0.6], "labels": false}},
                        "y2": {"field": "hi"}
                      }
                    },
                    {
                      "data": {"values": [{"cat": "0% replay", "yv": 0.78, "t": "E"}]},
                      "mark": {"type": "text", "dx": -20.5, "dy": -11, "fontSize": 13.5, "align": "center", "baseline": "middle"},
                      "encoding": {
                        "x": {"field": "cat", "type": "nominal", "title": null, "scale": {"domain": ["0% replay", "1% replay", "10% replay", "Incremental", "Full"]}},
                        "y": {"field": "yv", "type": "quantitative", "title": null, "scale": {"domain": [0, 0.78], "nice": false}, "axis": {"values": [0, 0.2, 0.4, 0.6], "labels": false}},
                        "text": {"field": "t"}
                      }
                    },
                    {
                      "data": {"values": [{"cat": "10% replay", "yv": 0.78, "t": "ALBERT"}]},
                      "mark": {"type": "text", "dy": -12, "fontSize": 13.5, "align": "center", "baseline": "middle"},
                      "encoding": {
                        "x": {"field": "cat", "type": "nominal", "title": null, "scale": {"domain": ["0% replay", "1% replay", "10% replay", "Incremental", "Full"]}},
                        "y": {"field": "yv", "type": "quantitative", "title": null, "scale": {"domain": [0, 0.78], "nice": false}, "axis": {"values": [0, 0.2, 0.4, 0.6], "labels": false}},
                        "text": {"field": "t"}
                      }
                    }
                  ]
                }
              ]
            }
          ]
        }
      ]
    }
  ]
}
